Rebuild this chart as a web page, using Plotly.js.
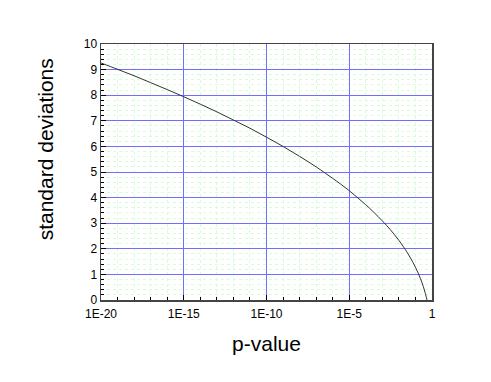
<!DOCTYPE html>
<html>
<head>
<meta charset="utf-8">
<script src="https://cdn.plot.ly/plotly-3.0.1.min.js"></script>
<style>
  html, body { margin: 0; padding: 0; background: #fff; }
  #chart { width: 491px; height: 382px; }
</style>
</head>
<body>
<div id="chart"></div>
<script>
(function() {
  "use strict";

  // p-values and the matching number of standard deviations
  var pValues = [1e-20, 1e-19, 1e-18, 1e-17, 1e-16, 1e-15, 1e-14, 1e-13, 1e-12,
    1e-11, 1e-10, 1e-9, 1e-8, 1e-7, 1e-6, 3e-6, 1e-5, 3e-5, 1e-4, 3e-4,
    1e-3, 3e-3, 1e-2, 0.03, 0.05, 0.1, 0.2, 0.3, 0.4, 0.5];
  var sigmas = [9.26, 9.01, 8.76, 8.49, 8.22, 7.94, 7.65, 7.35, 7.03,
    6.71, 6.36, 6.00, 5.61, 5.20, 4.75, 4.53, 4.27, 4.01, 3.72, 3.43,
    3.09, 2.75, 2.33, 1.88, 1.64, 1.28, 0.84, 0.52, 0.25, 0.0];

  var xTickVals = [1e-20, 1e-15, 1e-10, 1e-5, 1];
  var xTickText = ["1E-20", "1E-15", "1E-10", "1E-5", "1"];
  var xMinorVals = [1e-19, 1e-18, 1e-17, 1e-16, 1e-14, 1e-13, 1e-12, 1e-11,
    1e-9, 1e-8, 1e-7, 1e-6, 1e-4, 1e-3, 1e-2, 1e-1];

  // minor y ticks every 0.2, skipping the whole numbers
  var yMinorVals = [];
  for (var i = 1; i < 50; i += 1) {
    if (i % 5 !== 0) {
      yMinorVals.push(i / 5);
    }
  }

  function main() {
    var curve = {
      x: pValues,
      y: sigmas,
      type: "scatter",
      mode: "lines",
      line: { color: "#333333", width: 1, shape: "spline" },
      hoverinfo: "x+y"
    };

    var layout = {
      width: 491,
      height: 382,
      margin: { l: 101, r: 59, t: 44, b: 82 },
      paper_bgcolor: "#ffffff",
      plot_bgcolor: "#ffffff",
      showlegend: false,
      font: { family: "Liberation Sans, Arial, sans-serif", size: 12, color: "#000" },
      xaxis: {
        type: "log",
        range: [-20, 0],
        tickmode: "array",
        tickvals: xTickVals,
        ticktext: xTickText,
        ticks: "inside",
        ticklen: 5,
        tickcolor: "#000",
        ticklabelstandoff: 2,
        showgrid: true,
        gridcolor: "rgb(110,110,255)",
        gridwidth: 1,
        zeroline: false,
        showline: true,
        linecolor: "#444",
        linewidth: 1.5,
        mirror: true,
        tickfont: { size: 12 },
        minor: {
          tickmode: "array",
          tickvals: xMinorVals,
          ticks: "inside",
          ticklen: 3,
          tickcolor: "#000",
          showgrid: true,
          gridcolor: "rgb(215,252,215)",
          griddash: "dot",
          gridwidth: 1
        },
        title: { text: "p-value", font: { size: 21 }, standoff: 16 }
      },
      yaxis: {
        range: [0, 10],
        dtick: 1,
        tick0: 0,
        ticks: "inside",
        ticklen: 5,
        tickcolor: "#000",
        showgrid: true,
        gridcolor: "rgb(110,110,255)",
        gridwidth: 1,
        zeroline: false,
        showline: true,
        linecolor: "#444",
        linewidth: 1.5,
        mirror: true,
        tickfont: { size: 12 },
        minor: {
          tickmode: "array",
          tickvals: yMinorVals,
          ticks: "inside",
          ticklen: 3,
          tickcolor: "#000",
          showgrid: true,
          gridcolor: "rgb(215,252,215)",
          griddash: "dot",
          gridwidth: 1
        }
      },
      annotations: [{
        text: "standard deviations",
        textangle: -90,
        xref: "paper",
        yref: "paper",
        x: -0.165,
        y: 0.59,
        xanchor: "center",
        yanchor: "middle",
        showarrow: false,
        font: { size: 21 }
      }]
    };

    Plotly.newPlot("chart", [curve], layout, { displayModeBar: false, staticPlot: true });
  }

  window.addEventListener("load", main, false);
})();
</script>
</body>
</html>
